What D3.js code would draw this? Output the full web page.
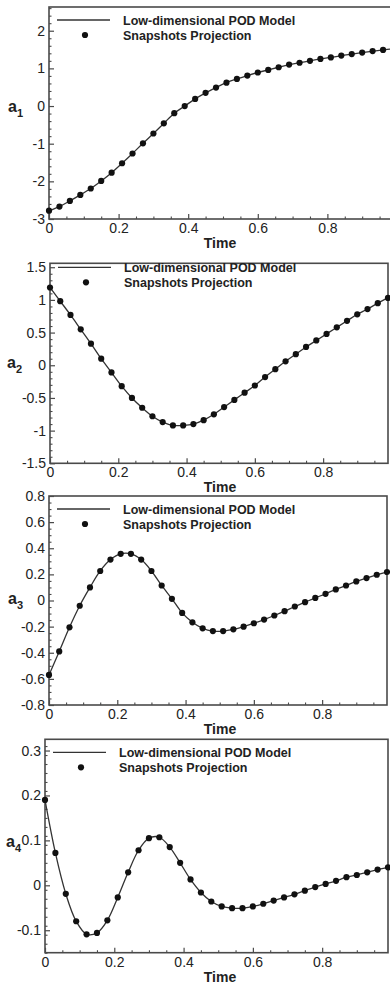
<!DOCTYPE html>
<html><head><meta charset="utf-8">
<script src="https://cdn.jsdelivr.net/npm/d3@7"></script>
<style>body{margin:0;background:#fff}svg{display:block}</style>
</head><body>
<svg id="c" width="390" height="986"></svg>
<script>
// ---- data ----
const time = [0,0.03,0.06,0.09,0.12,0.15,0.18,0.21,0.24,0.27,0.30,0.33,0.36,0.39,0.42,0.45,0.48,0.51,0.54,0.57,0.60,0.63,0.66,0.69,0.72,0.75,0.78,0.81,0.84,0.87,0.90,0.93,0.96,0.99];
const a1 = [-2.78,-2.67,-2.52,-2.36,-2.19,-1.99,-1.77,-1.52,-1.26,-0.99,-0.73,-0.46,-0.19,0.0,0.19,0.35,0.49,0.62,0.72,0.81,0.89,0.96,1.03,1.10,1.15,1.20,1.25,1.29,1.34,1.38,1.42,1.46,1.49,1.52];
const a2 = [1.19,0.98,0.77,0.55,0.33,0.10,-0.11,-0.32,-0.50,-0.65,-0.78,-0.87,-0.92,-0.92,-0.90,-0.84,-0.75,-0.64,-0.53,-0.42,-0.31,-0.18,-0.06,0.06,0.17,0.28,0.38,0.48,0.58,0.68,0.78,0.86,0.95,1.03];
const a3 = [-0.57,-0.39,-0.205,-0.04,0.10,0.226,0.313,0.357,0.357,0.313,0.226,0.115,0.013,-0.095,-0.167,-0.213,-0.234,-0.234,-0.221,-0.200,-0.174,-0.146,-0.115,-0.082,-0.046,-0.013,0.020,0.051,0.085,0.115,0.146,0.172,0.197,0.218];
const a4 = [0.190,0.072,-0.019,-0.080,-0.109,-0.106,-0.078,-0.027,0.029,0.078,0.105,0.107,0.085,0.050,0.013,-0.016,-0.036,-0.047,-0.051,-0.051,-0.047,-0.041,-0.034,-0.027,-0.020,-0.012,-0.004,0.003,0.010,0.018,0.023,0.029,0.035,0.040];
const seriesNames = ["1","2","3","4"];
const legendLabels = ["Low-dimensional POD Model","Snapshots Projection"];
const xLabel = "Time";
const xTicks = [0,0.2,0.4,0.6,0.8];
const yTicks1 = [-3,-2,-1,0,1,2];
const yTicks2 = [-1.5,-1,-0.5,0,0.5,1,1.5];
const yTicks3 = [-0.8,-0.6,-0.4,-0.2,0,0.2,0.4,0.6,0.8];
const yTicks4 = [-0.1,0,0.1,0.2,0.3];

// ---- layout ----
const panels = [
  {vals:a1, yt:yTicks1, ydom:[-3,2.63], minor:0.2, left:49, right:393.5, top:7, bottom:219, lab:[8,112]},
  {vals:a2, yt:yTicks2, ydom:[-1.5,1.56], minor:0.1, left:50, right:388, top:263.3, bottom:463.3, lab:[7,368]},
  {vals:a3, yt:yTicks3, ydom:[-0.8,0.8], minor:0.05, left:49, right:387, top:496, bottom:705, lab:[8,604]},
  {vals:a4, yt:yTicks4, ydom:[-0.15,0.325], minor:0.02, left:45, right:388, top:739.3, bottom:952.7, lab:[6,847]}
];
const ink = "#222", frameCol = "#4a4a4a";
const svg = d3.select("#c");

panels.forEach((p, i) => {
  const x = d3.scaleLinear().domain([0, 0.99]).range([p.left, p.right]);
  const y = d3.scaleLinear().domain(p.ydom).range([p.bottom, p.top]);
  const g = svg.append("g");

  // minor ticks
  const xMinor = d3.range(0, 0.99, 0.05).filter(v => !xTicks.some(t => Math.abs(t - v) < 1e-6));
  const yMinor = d3.range(p.ydom[0], p.ydom[1] + 1e-9, p.minor).filter(v => !p.yt.some(t => Math.abs(t - v) < 1e-6));
  g.append("g").attr("transform", `translate(0,${p.bottom})`)
    .call(d3.axisBottom(x).tickValues(xMinor).tickSizeInner(-2.5).tickSizeOuter(0).tickFormat(""))
    .call(a => { a.select(".domain").remove(); a.selectAll("line").attr("stroke", frameCol).attr("stroke-width", 1.1); });
  g.append("g").attr("transform", `translate(${p.left},0)`)
    .call(d3.axisLeft(y).tickValues(yMinor).tickSizeInner(-2.5).tickSizeOuter(0).tickFormat(""))
    .call(a => { a.select(".domain").remove(); a.selectAll("line").attr("stroke", frameCol).attr("stroke-width", 1.1); });

  // major axes
  g.append("g").attr("transform", `translate(0,${p.bottom})`)
    .call(d3.axisBottom(x).tickValues(xTicks).tickSizeInner(-5).tickSizeOuter(0).tickPadding(4).tickFormat(d => String(d)))
    .call(a => {
      a.select(".domain").remove();
      a.selectAll("line").attr("stroke", frameCol).attr("stroke-width", 1.2);
      a.selectAll("text").attr("fill", ink).style("font-family", "Liberation Sans, Arial, sans-serif").style("font-size", "14px");
    });
  g.append("g").attr("transform", `translate(${p.left},0)`)
    .call(d3.axisLeft(y).tickValues(p.yt).tickSizeInner(-5).tickSizeOuter(0).tickPadding(4).tickFormat(d => String(d)))
    .call(a => {
      a.select(".domain").remove();
      a.selectAll("line").attr("stroke", frameCol).attr("stroke-width", 1.2);
      a.selectAll("text").attr("fill", ink).style("font-family", "Liberation Sans, Arial, sans-serif").style("font-size", "14px");
    });

  // frame
  g.append("rect").attr("x", p.left).attr("y", p.top)
    .attr("width", p.right - p.left).attr("height", p.bottom - p.top)
    .attr("fill", "none").attr("stroke", frameCol).attr("stroke-width", 1.6);

  // line + points
  const data = time.map((t, k) => [t, p.vals[k]]);
  g.append("path").datum(data)
    .attr("d", d3.line().x(d => x(d[0])).y(d => y(d[1])).curve(d3.curveCatmullRom.alpha(0.5)))
    .attr("fill", "none").attr("stroke", "#333").attr("stroke-width", 1.3);
  g.selectAll("circle.pt").data(data).join("circle").attr("class", "pt")
    .attr("cx", d => x(d[0])).attr("cy", d => y(d[1])).attr("r", 3.1).attr("fill", "#111");

  // legend
  const ly = p.top + (i === 1 ? 4 : 13);
  g.append("line").attr("x1", p.left + 8).attr("x2", p.left + 61).attr("y1", ly).attr("y2", ly)
    .attr("stroke", "#333").attr("stroke-width", 1.3);
  g.append("circle").attr("cx", p.left + 36).attr("cy", ly + 15).attr("r", 3.1).attr("fill", "#111");
  legendLabels.forEach((s, k) => {
    g.append("text").attr("x", p.left + 74).attr("y", ly + 15 * k + 4.5)
      .attr("fill", ink).style("font-family", "Liberation Sans, Arial, sans-serif")
      .style("font-size", "12.5px").style("font-weight", "bold").text(s);
  });

  // y label
  const yl = g.append("text").attr("x", p.lab[0]).attr("y", p.lab[1]).attr("fill", ink)
    .style("font-family", "Liberation Sans, Arial, sans-serif").style("font-weight", "bold").style("font-size", "16px");
  yl.append("tspan").text("a");
  yl.append("tspan").attr("dy", 5).style("font-size", "11px").text(seriesNames[i]);

  // x label
  g.append("text").attr("x", 220).attr("y", p.bottom + 29).attr("text-anchor", "middle").attr("fill", ink)
    .style("font-family", "Liberation Sans, Arial, sans-serif").style("font-weight", "bold").style("font-size", "14px")
    .text(xLabel);
});
</script>
</body></html>
